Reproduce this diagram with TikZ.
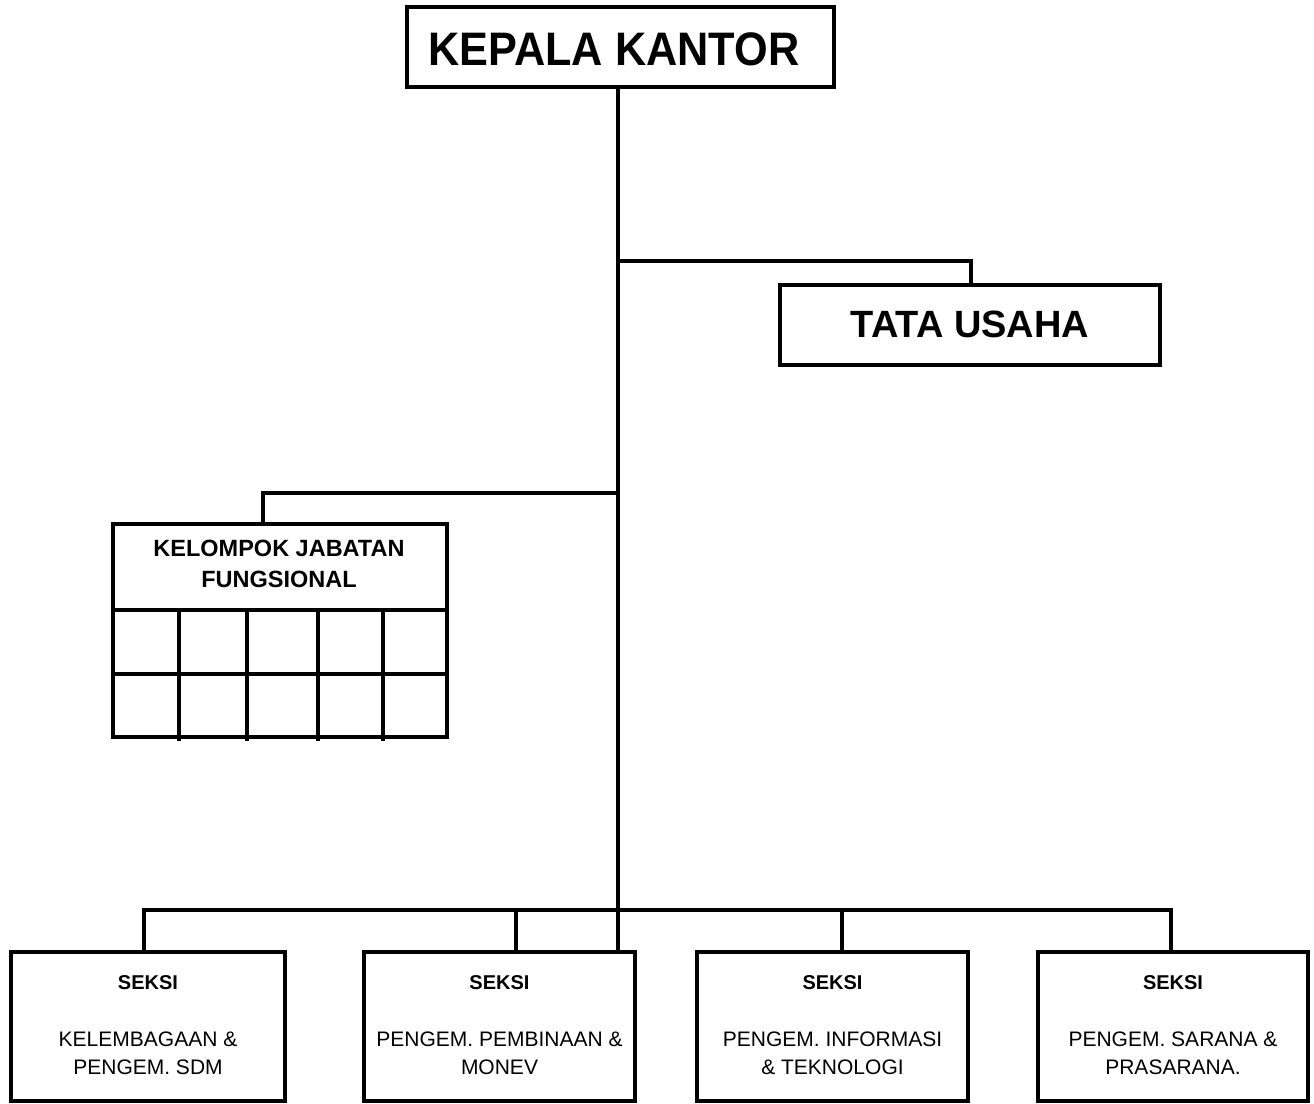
\documentclass[tikz,border=0pt]{standalone}
\usepackage{fontspec}
\setmainfont{Liberation Sans}
\usepackage{graphicx}
\begin{document}
\begin{tikzpicture}[x=1pt,y=-1pt,line width=3.1pt,
  box/.style={draw=black,rectangle,inner sep=0pt,line width=3.1pt},
  conn/.style={draw=black,line width=3.1pt},
  lbl/.style={inner sep=0pt,anchor=base,text=black},
  seksihead/.style={lbl,font=\fontsize{20}{20}\selectfont\bfseries},
  seksibody/.style={lbl,font=\fontsize{21}{21}\selectfont},
  kjftext/.style={lbl,font=\fontsize{23.5}{23.5}\selectfont\bfseries}]
\useasboundingbox[fill=white] (0,0) rectangle (1314,1103);

% Kepala Kantor
\node[box,minimum width=427pt,minimum height=80pt] (kk) at (620.5,47) {};
\node[inner sep=0pt,font=\fontsize{47}{47}\selectfont\bfseries] (kkt) at (614,49.5) {\scalebox{0.92}[1]{KEPALA KANTOR}};

% Tata Usaha
\node[box,minimum width=380pt,minimum height=80pt] (tu) at (970,325) {};
\node[inner sep=0pt,font=\fontsize{38}{38}\selectfont\bfseries] (tut) at (970,324.5) {TATA USAHA};

% Kelompok Jabatan Fungsional
\node[box,minimum width=334pt,minimum height=213pt] (kjf) at (280,630.5) {};
\node[kjftext] (kjf1) at (279,556) {KELOMPOK JABATAN};
\node[kjftext] (kjf2) at (279,587) {FUNGSIONAL};
\coordinate (r1) at (113,610);
\coordinate (r2) at (113,674);
\draw[conn] (r1) -- (r1 -| kjf.east);
\draw[conn] (r2) -- (r2 -| kjf.east);
\foreach \cx [count=\i] in {179,247,318,383}{
  \coordinate (gv\i) at (\cx,610);
  \draw[conn] (gv\i) -- (\cx,741);
}

% Seksi boxes
\node[box,minimum width=274pt,minimum height=149pt] (s1) at (148,1026.5) {};
\node[box,minimum width=271pt,minimum height=149pt] (s2) at (499.5,1026.5) {};
\node[box,minimum width=271pt,minimum height=149pt] (s3) at (832.5,1026.5) {};
\node[box,minimum width=270pt,minimum height=149pt] (s4) at (1173,1026.5) {};

\node[seksihead] (s1h) at (148,989) {SEKSI};
\node[seksibody] (s1a) at (148,1046) {KELEMBAGAAN \&};
\node[seksibody] (s1b) at (148,1074) {PENGEM. SDM};

\node[seksihead] (s2h) at (499.5,989) {SEKSI};
\node[seksibody] (s2a) at (499.5,1046) {PENGEM. PEMBINAAN \&};
\node[seksibody] (s2b) at (499.5,1074) {MONEV};

\node[seksihead] (s3h) at (832.5,989) {SEKSI};
\node[seksibody] (s3a) at (832.5,1046) {PENGEM. INFORMASI};
\node[seksibody] (s3b) at (832.5,1074) {\& TEKNOLOGI};

\node[seksihead] (s4h) at (1173,989) {SEKSI};
\node[seksibody] (s4a) at (1173,1046) {PENGEM. SARANA \&};
\node[seksibody] (s4b) at (1173,1074) {PRASARANA.};

% Connectors
\coordinate (trunk) at (618,87);
\draw[conn] (trunk) -- (trunk |- s2.north);

\coordinate (tuj) at (618,261);
\coordinate (tud) at (971,261);
\draw[conn] (tuj) -- (tud) -- (tud |- tu.north);

\coordinate (kjj) at (618,493);
\coordinate (kjd) at (263,493);
\draw[conn] (kjj) -- (kjd) -- (kjd |- kjf.north);

\coordinate (b1) at (144,910);
\coordinate (b2) at (516,910);
\coordinate (b3) at (842,910);
\coordinate (b4) at (1171,910);
\draw[conn] (b1 |- s1.north) -- (b1) -- (b4) -- (b4 |- s4.north);
\draw[conn] (b2) -- (b2 |- s2.north);
\draw[conn] (b3) -- (b3 |- s3.north);
\end{tikzpicture}
\end{document}
